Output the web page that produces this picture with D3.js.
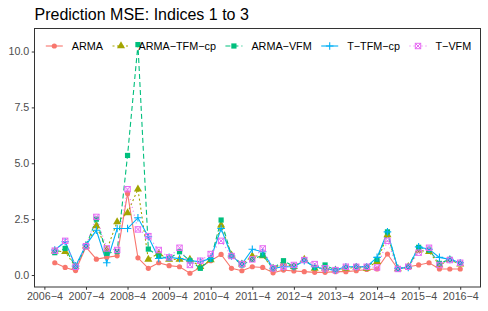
<!DOCTYPE html>
<html>
<head>
<meta charset="utf-8">
<script src="https://cdn.jsdelivr.net/npm/d3@7"></script>
<style>
  body { margin: 0; background: #fff; }
  text { font-family: "Liberation Sans", Arial, sans-serif; }
</style>
</head>
<body>
<div id="chart"></div>
<script>
// quarters 2007-1 .. 2016-4
var quarters = ["2007-1","2007-2","2007-3","2007-4","2008-1","2008-2","2008-3","2008-4",
                "2009-1","2009-2","2009-3","2009-4","2010-1","2010-2","2010-3","2010-4",
                "2011-1","2011-2","2011-3","2011-4","2012-1","2012-2","2012-3","2012-4",
                "2013-1","2013-2","2013-3","2013-4","2014-1","2014-2","2014-3","2014-4",
                "2015-1","2015-2","2015-3","2015-4","2016-1","2016-2","2016-3","2016-4"];

var tickLabels = ["2006-4","2007-4","2008-4","2009-4","2010-4","2011-4",
                  "2012-4","2013-4","2014-4","2015-4","2016-4"];
var yTicks = [0, 2.5, 5, 7.5, 10];

var seriesNames = ["ARMA", "ARMA-TFM-cp", "ARMA-VFM", "T-TFM-cp", "T-VFM"];

var arma    = [0.55,0.34,0.20,1.25,0.71,0.79,0.86,3.65,0.77,0.30,0.55,0.42,0.37,0.08,0.34,0.64,0.92,0.30,0.19,0.37,
               0.34,0.10,0.22,0.18,0.15,0.12,0.12,0.15,0.15,0.19,0.25,0.27,0.94,0.27,0.37,0.45,0.55,0.27,0.27,0.27];
var armaTfm = [1.07,1.04,0.37,1.29,2.20,1.12,2.38,2.78,3.84,0.70,0.97,0.70,0.70,0.70,0.37,0.67,2.23,0.89,0.49,0.85,
               0.85,0.30,0.52,0.37,0.70,0.30,0.30,0.22,0.30,0.34,0.30,0.60,1.79,0.27,0.37,1.10,1.04,0.45,0.67,0.49];
var armaVfm = [1.00,1.19,0.37,1.29,2.50,0.97,1.05,5.35,10.31,1.16,0.85,0.74,1.04,0.64,0.30,0.70,2.46,0.85,0.45,0.70,
               0.89,0.30,0.64,0.37,0.67,0.34,0.45,0.22,0.34,0.37,0.37,0.70,1.93,0.27,0.37,1.24,1.12,0.52,0.70,0.52];
var tTfm    = [1.12,1.49,0.40,1.34,2.00,0.55,2.08,2.08,2.56,1.71,0.74,0.79,0.74,0.64,0.60,0.74,2.08,0.85,0.49,1.15,
               1.04,0.30,0.37,0.37,0.64,0.37,0.27,0.22,0.37,0.37,0.37,0.79,1.93,0.30,0.34,1.26,1.15,0.79,0.70,0.55];
var tVfm    = [1.09,1.53,0.37,1.29,2.60,1.19,1.12,3.84,2.04,1.74,1.12,0.79,1.22,0.45,0.64,0.94,1.53,0.85,0.49,0.70,
               1.19,0.30,0.37,0.45,0.67,0.49,0.30,0.22,0.37,0.37,0.37,0.34,1.53,0.27,0.37,1.00,1.22,0.45,0.67,0.55];

var colors  = ["#F8766D", "#A3A500", "#00BF7D", "#00B0F6", "#E76BF3"];
var dashes  = [null, "2,2.5", "5,3", null, "1,3"];
var shapes  = ["circle", "triangle", "square", "plus", "squarex"];

(function() {
  // quarter string -> decimal year (2007-1 -> 2007.0)
  function qt(s) { var p = s.split("-"); return +p[0] + (+p[1] - 1) / 4; }

  var series = [arma, armaTfm, armaVfm, tTfm, tVfm].map(function(vals, k) {
    return { name: seriesNames[k], color: colors[k], dash: dashes[k], shape: shapes[k],
             values: vals.map(function(v, i) { return { t: qt(quarters[i]), v: v }; }) };
  });

  var W = 488, H = 311;
  var pL = 34.5, pR = 480.5, pT = 28.5, pB = 287;

  var svg = d3.select("#chart").append("svg")
              .attr("width", W)
              .attr("height", H);

  var t0 = qt(quarters[0]), t1 = qt(quarters[quarters.length - 1]);
  var pad = (t1 - t0) * 0.05;
  var x = d3.scaleLinear().domain([t0 - pad, t1 + pad]).range([pL, pR]);
  var y = d3.scaleLinear().domain([-0.536, 11.03]).range([pB, pT]);

  // title
  svg.append("text")
     .attr("x", pL)
     .attr("y", 19.5)
     .style("font-size", "16px")
     .style("fill", "#000")
     .text("Prediction MSE: Indices 1 to 3");

  // axes
  var xAxis = d3.axisBottom(x)
                .tickValues(tickLabels.map(qt))
                .tickFormat(function(d, i) { return tickLabels[i].replace("-", "\u2212"); })
                .tickSize(2.75).tickPadding(2.5);
  var yAxis = d3.axisLeft(y)
                .tickValues(yTicks)
                .tickFormat(d3.format(".1f"))
                .tickSize(2.75).tickPadding(2.5);

  var gx = svg.append("g").attr("transform", "translate(0," + pB + ")").call(xAxis);
  var gy = svg.append("g").attr("transform", "translate(" + pL + ",0)").call(yAxis);
  [gx, gy].forEach(function(g) {
    g.select(".domain").remove();
    g.selectAll(".tick line").attr("stroke", "#333").attr("stroke-width", 1);
    g.selectAll(".tick text").style("font-size", "10.7px").style("fill", "#4D4D4D")
     .style("font-family", "'Liberation Sans', Arial, sans-serif");
  });

  // lines
  var line = d3.line().x(function(d) { return x(d.t); }).y(function(d) { return y(d.v); });

  svg.append("g").selectAll("path")
     .data(series)
     .enter()
     .append("path")
     .attr("d", function(d) { return line(d.values); })
     .attr("fill", "none")
     .attr("stroke", function(d) { return d.color; })
     .attr("stroke-width", 1.1)
     .attr("stroke-dasharray", function(d) { return d.dash; });

  function drawMarker(g, shape, color) {
    if (shape === "circle") {
      g.append("circle").attr("r", 2.6).attr("fill", color);
    } else if (shape === "triangle") {
      g.append("path").attr("d", d3.symbol(d3.symbolTriangle, 28)()).attr("fill", color);
    } else if (shape === "square") {
      g.append("rect").attr("x", -2.6).attr("y", -2.6).attr("width", 5.2).attr("height", 5.2).attr("fill", color);
    } else if (shape === "plus") {
      g.append("path").attr("d", "M-3.8,0H3.8M0,-3.8V3.8").attr("stroke", color).attr("stroke-width", 1.1);
    } else {
      g.append("rect").attr("x", -2.7).attr("y", -2.7).attr("width", 5.4).attr("height", 5.4)
       .attr("fill", "none").attr("stroke", color).attr("stroke-width", 1);
      g.append("path").attr("d", "M-2.7,-2.7L2.7,2.7M-2.7,2.7L2.7,-2.7").attr("stroke", color).attr("stroke-width", 1);
    }
  }

  // points
  series.forEach(function(s) {
    svg.append("g").selectAll("g")
       .data(s.values)
       .enter()
       .append("g")
       .attr("transform", function(d) { return "translate(" + x(d.t) + "," + y(d.v) + ")"; })
       .each(function() { drawMarker(d3.select(this), s.shape, s.color); });
  });

  // panel border
  svg.append("rect")
     .attr("x", pL).attr("y", pT)
     .attr("width", pR - pL).attr("height", pB - pT)
     .attr("fill", "none").attr("stroke", "#333").attr("stroke-width", 1);

  // legend (top, inside panel)
  var legend = svg.append("g");
  var items = legend.selectAll("g")
                    .data(series)
                    .enter()
                    .append("g");
  items.append("line")
       .attr("x1", 0).attr("x2", 17).attr("y1", 0).attr("y2", 0)
       .attr("stroke", function(d) { return d.color; })
       .attr("stroke-width", 1.1)
       .attr("stroke-dasharray", function(d) { return d.dash; });
  items.each(function(d) {
    var g = d3.select(this).append("g").attr("transform", "translate(8.5,0)");
    drawMarker(g, d.shape, d.color);
  });
  items.append("text")
       .attr("x", 26)
       .attr("y", 3.8)
       .style("font-size", "10.8px")
       .style("fill", "#000")
       .text(function(d) { return d.name.replace(/-/g, "\u2212"); });

  var offs = [], pos = 0;
  items.each(function() {
    var w = d3.select(this).select("text").node().getComputedTextLength();
    offs.push(pos);
    pos += 26 + w + 9.5;
  });
  var total = pos - 9.5;
  var lx = (pL + pR) / 2 + 1 - total / 2;
  items.attr("transform", function(d, i) { return "translate(" + (lx + offs[i]) + ",46)"; });
})();
</script>
</body>
</html>
